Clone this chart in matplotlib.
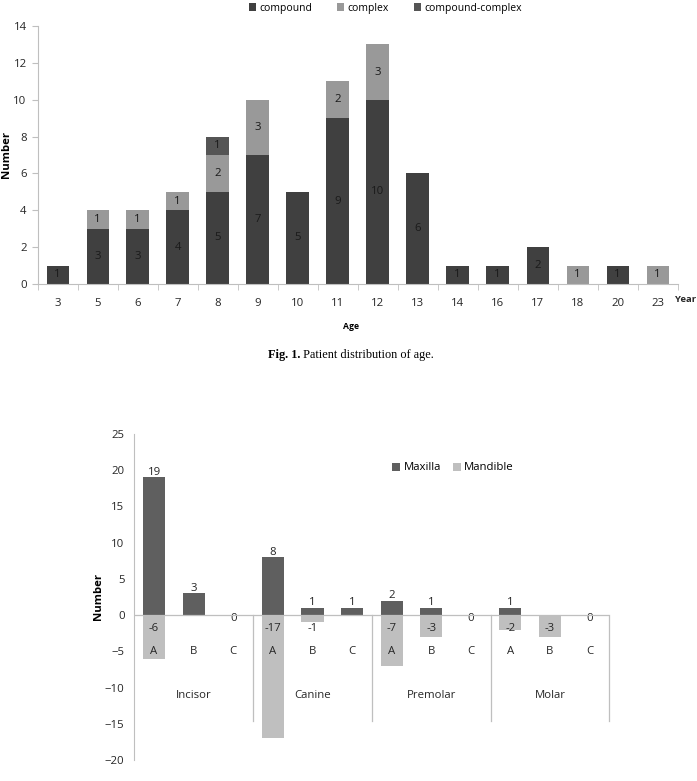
import numpy as np
import matplotlib.pyplot as plt
from matplotlib.transforms import blended_transform_factory

ages = ["3", "5", "6", "7", "8", "9", "10", "11", "12", "13", "14", "16", "17", "18", "20", "23"]
compound = [1, 3, 3, 4, 5, 7, 5, 9, 10, 6, 1, 1, 2, 0, 1, 0]
complex_ = [0, 1, 1, 1, 2, 3, 0, 2, 3, 0, 0, 0, 0, 1, 0, 1]
compound_complex = [0, 0, 0, 0, 1, 0, 0, 0, 0, 0, 0, 0, 0, 0, 0, 0]

groups = ["Incisor", "Canine", "Premolar", "Molar"]
sub_labels = ["A", "B", "C"]
maxilla = [19, 3, 0, 8, 1, 1, 2, 1, 0, 1, np.nan, 0]
mandible = [-6, np.nan, np.nan, -17, -1, np.nan, -7, -3, np.nan, -2, -3, np.nan]

W, H = 697, 781
plt.rcParams["font.family"] = ["Open Sans", "DejaVu Sans"]
FS = 8.2
plt.rcParams["font.size"] = FS
AX_COLOR = "#bfbfbf"
TXT = "#262626"

fig = plt.figure(figsize=(W / 100, H / 100), dpi=100)


def frac_box(x0, y0, x1, y1):
    return [x0 / W, 1 - y1 / H, (x1 - x0) / W, (y1 - y0) / H]


# ---- Fig 1: stacked bars by age ----
ax = fig.add_axes(frac_box(37.7, 26, 677.7, 284))
x = np.arange(len(ages))
bw = 0.56
series = [
    ("compound", compound, "#404040"),
    ("complex", complex_, "#999999"),
    ("compound-complex", compound_complex, "#555555"),
]
bottom = np.zeros(len(ages))
for name, vals, col in series:
    vals = np.array(vals, dtype=float)
    ax.bar(x, vals, bw, bottom=bottom, color=col, label=name, edgecolor="none")
    for xi, b, v in zip(x, bottom, vals):
        if v > 0:
            ax.text(xi, b + v / 2, f"{int(v)}", ha="center", va="center",
                    color="#1a1a1a", fontsize=FS)
    bottom += vals

ax.set_xlim(-0.5, len(ages) - 0.5)
ax.set_ylim(0, 14)
ax.set_yticks(range(0, 15, 2))
ax.set_xticks(x)
ax.set_xticklabels(ages)
ax.set_xticks(np.arange(-0.5, len(ages)), minor=True)
ax.tick_params(axis="x", which="major", length=0, pad=10, labelcolor=TXT)
ax.tick_params(axis="x", which="minor", length=4, color=AX_COLOR)
ax.tick_params(axis="y", length=4, color=AX_COLOR, pad=4, labelcolor=TXT)
for s in ["top", "right"]:
    ax.spines[s].set_visible(False)
for s in ["left", "bottom"]:
    ax.spines[s].set_color(AX_COLOR)
ax.set_ylabel("Number", fontweight="bold", fontsize=FS)
ax.yaxis.set_label_coords(-26 / 640, 0.5)
ax.text(675 / W, 1 - 300 / H, "Year", transform=fig.transFigure, ha="left",
        va="center", fontweight="bold", fontsize=6.8, color=TXT)
ax.set_xlabel("Age", fontweight="bold", fontsize=6.2)
ax.xaxis.set_label_coords(0.49, -38 / 258)

handles, labels = ax.get_legend_handles_labels()
fig.legend(handles, labels, ncol=3, loc="center", frameon=False,
           bbox_to_anchor=(385 / W, 1 - 8 / H), handlelength=0.7,
           handleheight=0.7, handletextpad=0.3, columnspacing=2.4,
           fontsize=7.5)

cap = fig.text(268 / W, 1 - 355 / H, "Fig. 1.", ha="left", va="center",
               fontsize=8.8, family="Liberation Serif", fontweight="bold")
ax.annotate(" Patient distribution of age.", xy=(1, 0.5), xycoords=cap,
            ha="left", va="center", fontsize=8.8, family="Liberation Serif",
            annotation_clip=False)

# ---- Fig 2: maxilla / mandible ----
bx = fig.add_axes(frac_box(134.3, 434, 609.3, 760))
xs = np.arange(len(maxilla))
bx.bar(xs, maxilla, bw, color="#5f5f5f", label="Maxilla", edgecolor="none", zorder=2)
bx.bar(xs, mandible, bw, color="#bfbfbf", label="Mandible", edgecolor="none", zorder=1)
for xi, v in zip(xs, maxilla):
    if np.isnan(v):
        continue
    dy = 5 if v > 0 else -3
    bx.annotate(f"{int(v)}", (xi, v), xytext=(0, dy), textcoords="offset pixels",
                ha="center", va="center", color=TXT, fontsize=FS)
for xi, v in zip(xs, mandible):
    if not np.isnan(v):
        bx.annotate(f"{int(v)}", (xi, 0), xytext=(0, -13), textcoords="offset pixels",
                    ha="center", va="center", color=TXT, fontsize=FS)

bx.set_xlim(-0.5, len(maxilla) - 0.5)
bx.set_ylim(-20, 25)
bx.set_yticks(range(-20, 26, 5))
bx.set_xticks([])
bx.tick_params(axis="y", length=0, pad=7, labelcolor=TXT)
for s in ["top", "right", "bottom"]:
    bx.spines[s].set_visible(False)
bx.spines["left"].set_color(AX_COLOR)
bx.axhline(0, color=AX_COLOR, lw=0.9, zorder=3)

trans = blended_transform_factory(bx.transData, bx.transAxes)
for xi in xs:
    bx.text(xi, (760 - 651) / 326, sub_labels[xi % 3], transform=trans,
            ha="center", va="center", color=TXT, fontsize=FS)
for gi, g in enumerate(groups):
    bx.text(gi * 3 + 1, (760 - 695) / 326, g, transform=trans,
            ha="center", va="center", color=TXT, fontsize=FS)
for gi in range(1, len(groups) + 1):
    bx.plot([gi * 3 - 0.5] * 2, [(760 - 615) / 326, (760 - 721) / 326],
            transform=trans, color=AX_COLOR, lw=0.9, clip_on=False)
bx.set_ylabel("Number", fontweight="bold", fontsize=FS)
bx.yaxis.set_label_coords(-30 / 475, 0.5)

bx.legend(ncol=2, loc="center", frameon=False,
          bbox_to_anchor=((453 - 134.3) / 475, (760 - 468) / 326),
          handlelength=0.7, handleheight=0.7, handletextpad=0.3,
          columnspacing=1.0, fontsize=FS)

fig.savefig("out.png", dpi=100)
